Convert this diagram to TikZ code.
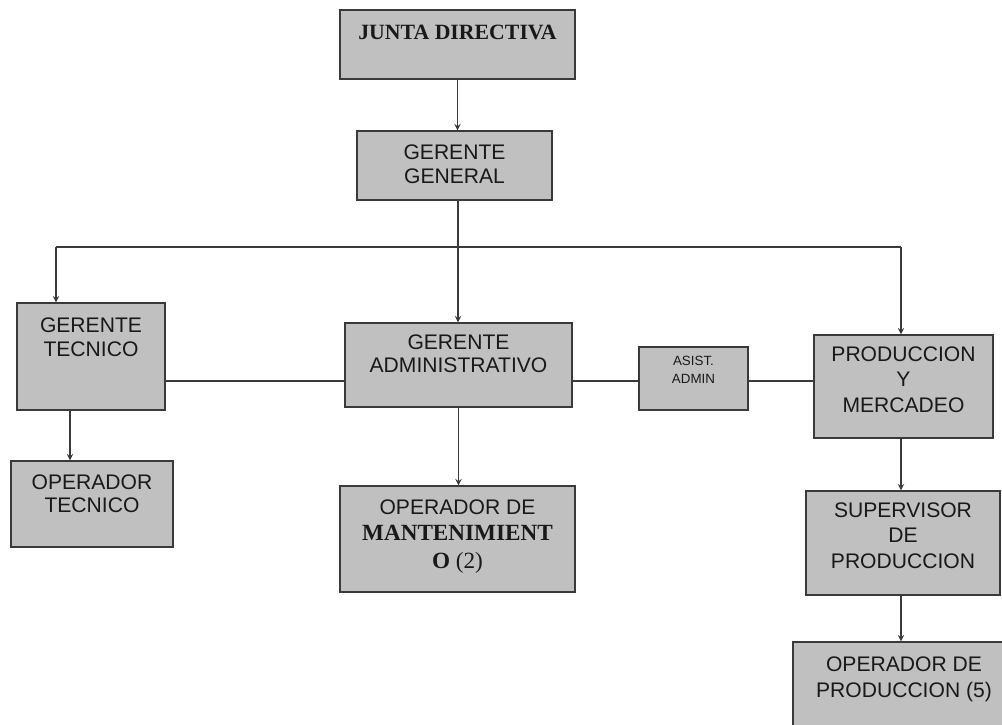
\documentclass[tikz,border=0pt]{standalone}
\usepackage{fontspec}
\setmainfont{Liberation Sans}
\newfontfamily\timesfont{Liberation Serif}
\usetikzlibrary{positioning,arrows}

\definecolor{boxgray}{RGB}{192,192,192}
\definecolor{linegray}{RGB}{58,58,58}

\tikzset{
  orgbox/.style={draw=linegray, fill=boxgray, line width=1pt, inner sep=0pt},
  boxtext/.style={align=center, inner sep=0pt, text=black!90, font=\fontsize{15}{17.5}\selectfont},
  conn/.style={draw=linegray, line width=1pt},
}

\begin{document}
\begin{tikzpicture}[x=0.025cm, y=-0.025cm, >=stealth]
  \clip (0,0) rectangle (1002,725);
  % boxes
  \node[orgbox, minimum width=5.875cm, minimum height=1.725cm] (jd) at (457.5,44.5) {};
  \node[orgbox, minimum width=4.875cm, minimum height=1.725cm] (gg) at (454.5,165.5) {};
  \node[orgbox, minimum width=3.7cm, minimum height=2.675cm] (gt) at (91,356.5) {};
  \node[orgbox, minimum width=5.675cm, minimum height=2.1cm] (ga) at (458.5,365) {};
  \node[orgbox, minimum width=2.725cm, minimum height=1.575cm] (asist) at (693.5,378.5) {};
  \node[orgbox, minimum width=4.475cm, minimum height=2.575cm] (pym) at (903.5,386.5) {};
  \node[orgbox, minimum width=4.05cm, minimum height=2.15cm] (ot) at (92,504) {};
  \node[orgbox, minimum width=5.875cm, minimum height=2.65cm] (om) at (457.5,539) {};
  \node[orgbox, minimum width=4.85cm, minimum height=2.6cm] (sp) at (903,543) {};
  \node[orgbox, minimum width=5.55cm, minimum height=2.6cm] (op) at (904,694) {};

  % texts
  \node[boxtext, below=10.7pt of jd.north, font=\timesfont\bfseries\fontsize{15.5}{18}\selectfont] (jdtext) {JUNTA DIRECTIVA};
  \node[boxtext, below=10pt of gg.north] (ggtext) {GERENTE\\GENERAL};
  \node[boxtext, below=10.7pt of gt.north] (gttext) {GERENTE\\TECNICO};
  \node[boxtext, below=8.5pt of ga.north, font=\fontsize{15}{16.8}\selectfont] (gatext) {GERENTE\\ADMINISTRATIVO};
  \node[boxtext, below=7pt of asist.north, font=\fontsize{9.5}{12.8}\selectfont] (asisttext) {ASIST.\\ADMIN};
  \node[boxtext, below=8.5pt of pym.north, font=\fontsize{15}{18.3}\selectfont] (pymtext) {PRODUCCION\\Y\\MERCADEO};
  \node[boxtext, below=10pt of ot.north, font=\fontsize{15}{16.6}\selectfont] (ottext) {OPERADOR\\TECNICO};
  \node[boxtext, below=10pt of om.north] (omtext) {OPERADOR DE\\[1pt]
    {\timesfont\bfseries\fontsize{16.5}{18}\selectfont MANTENIMIENT}\\[2.5pt]
    {\timesfont\fontsize{16.5}{18}\selectfont\textbf{O} (2)}};
  \node[boxtext, below=8.5pt of sp.north, font=\fontsize{15}{18.3}\selectfont] (sptext) {SUPERVISOR\\DE\\PRODUCCION};
  \node[boxtext, below=10.7pt of op.north, font=\fontsize{15}{18.3}\selectfont] (optext) {OPERADOR DE\\PRODUCCION (5)};

  % connectors
  \coordinate (split) at (458,247);
  \coordinate (busL) at (56,247);
  \coordinate (busR) at (901,247);
  \coordinate (row) at (0,381);
  \coordinate (gtdrop) at (70,0);
  \draw[conn,->] (jd.south) -- (jd.south |- gg.north);
  \draw[conn] (gg.south -| split) -- (split);
  \draw[conn] (busL) -- (busR);
  \draw[conn,->] (busL) -- (busL |- gt.north);
  \draw[conn,->] (split) -- (split |- ga.north);
  \draw[conn,->] (busR) -- (busR |- pym.north);
  \draw[conn] (gt.east |- row) -- (ga.west |- row);
  \draw[conn] (ga.east |- row) -- (asist.west |- row);
  \draw[conn] (asist.east |- row) -- (pym.west |- row);
  \draw[conn,->] (gtdrop |- gt.south) -- (gtdrop |- ot.north);
  \draw[conn,->] (ga.south) -- (ga.south |- om.north);
  \draw[conn,->] (pym.south -| busR) -- (busR |- sp.north);
  \draw[conn,->] (sp.south -| busR) -- (busR |- op.north);
\end{tikzpicture}
\end{document}
